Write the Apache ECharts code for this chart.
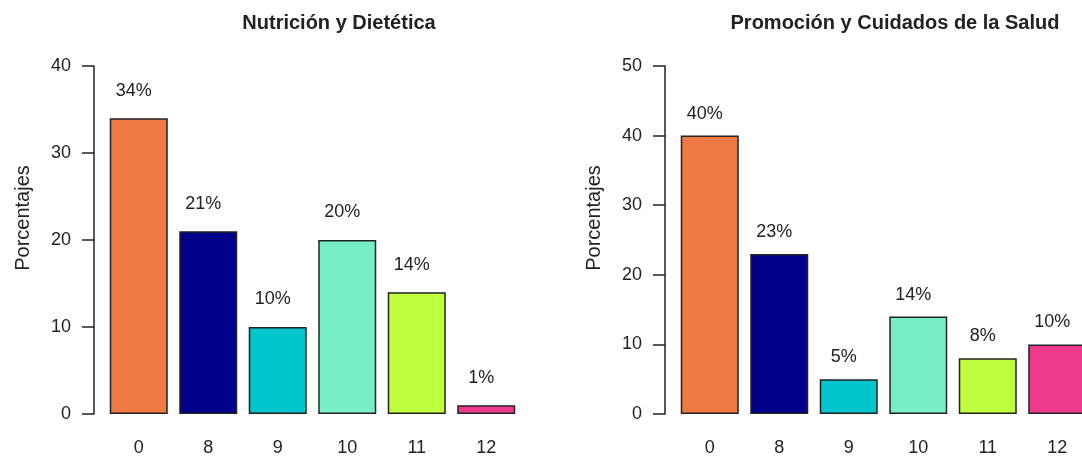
<!DOCTYPE html>
<html>
<head>
<meta charset="utf-8">
<script src="https://cdn.jsdelivr.net/npm/echarts@6/dist/echarts.min.js"></script>
<style>
html,body{margin:0;padding:0;background:#fff;}
#c{width:1082px;height:457px;}
</style>
</head>
<body>
<div id="c"></div>
<script>
const categories = ["0", "8", "9", "10", "11", "12"];
const nutricionValues = [34, 21, 10, 20, 14, 1];
const promocionValues = [40, 23, 5, 14, 8, 10];
const barColors = ["#EE7942", "#00008B", "#00C5CD", "#76EEC6", "#C0FF3E", "#EE3A8C"];
const titles = ["Nutrición y Dietética", "Promoción y Cuidados de la Salud"];
const yAxisName = "Porcentajes";

const FONT = "'Liberation Sans', Arial, sans-serif";
const txt = "#222";

function seriesData(vals) {
  return vals.map((v, i) => ({
    value: v,
    itemStyle: { color: barColors[i] }
  }));
}

const chart = echarts.init(document.getElementById('c'), null, { renderer: 'canvas' });

const yAxisCommon = (max) => ({
  type: 'value',
  min: 0, max: max, interval: 10,
  offset: 10,
  name: yAxisName,
  nameLocation: 'middle',
  nameGap: 61,
  nameRotate: 90,
  nameTextStyle: { fontFamily: FONT, fontSize: 20, color: txt, padding: [0, 0, 0, 44] },
  axisLine: { show: true, lineStyle: { color: '#222', width: 1.5 } },
  axisTick: { show: true, length: 12, lineStyle: { color: '#222', width: 1.5 } },
  axisLabel: { margin: 23, fontFamily: FONT, fontSize: 18, color: txt },
  splitLine: { show: false }
});

const xAxisCommon = (gi) => ({
  type: 'category',
  gridIndex: gi,
  data: categories,
  axisLine: { show: false },
  axisTick: { show: false },
  axisLabel: { margin: 25, fontFamily: FONT, fontSize: 18, color: txt },
  splitLine: { show: false }
});

const barCommon = (gi, vals, dist) => ({
  type: 'bar',
  xAxisIndex: gi,
  yAxisIndex: gi,
  data: seriesData(vals),
  barWidth: 58,
  itemStyle: { borderColor: '#222', borderWidth: 1.5 },
  label: {
    show: true,
    position: 'top',
    distance: dist,
    offset: [-5, 0],
    formatter: (p) => p.value + '%',
    fontFamily: FONT, fontSize: 18, color: txt
  },
  silent: true,
  animation: false
});

chart.setOption({
  animation: false,
  backgroundColor: '#fff',
  title: [
    { text: titles[0], left: 334, top: 8, textAlign: 'center',
      textStyle: { fontFamily: FONT, fontSize: 20, fontWeight: 'bold', color: txt } },
    { text: titles[1], left: 890, top: 8, textAlign: 'center',
      textStyle: { fontFamily: FONT, fontSize: 20, fontWeight: 'bold', color: txt } }
  ],
  grid: [
    { left: 104, top: 66, width: 417, height: 348, outerBoundsMode: 'none' },
    { left: 675, top: 66, width: 417, height: 348, outerBoundsMode: 'none' }
  ],
  xAxis: [xAxisCommon(0), xAxisCommon(1)],
  yAxis: [
    Object.assign(yAxisCommon(40), { gridIndex: 0 }),
    Object.assign(yAxisCommon(50), { gridIndex: 1 })
  ],
  series: [
    barCommon(0, nutricionValues, 18.5),
    barCommon(1, promocionValues, 13)
  ]
});
</script>
</body>
</html>
